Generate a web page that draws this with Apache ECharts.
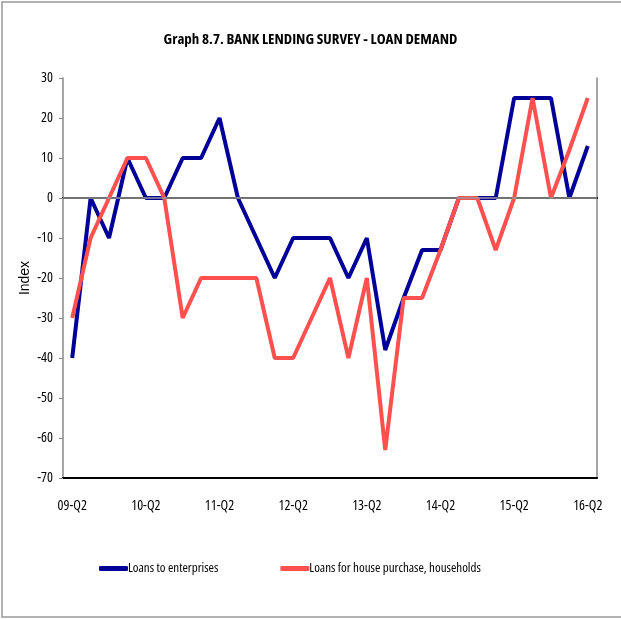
<!DOCTYPE html>
<html>
<head>
<meta charset="utf-8">
<script src="https://cdn.jsdelivr.net/npm/echarts@6/dist/echarts.min.js"></script>
<style>
  html, body { margin: 0; padding: 0; background: #fff; }
  #chart { width: 621px; height: 619px; }
</style>
</head>
<body>
<div id="chart"></div>
<script>
// Quarters from 2009 Q2 to 2016 Q2
const quarters = [
  '09-Q2', '09-Q3', '09-Q4', '10-Q1', '10-Q2', '10-Q3', '10-Q4', '11-Q1',
  '11-Q2', '11-Q3', '11-Q4', '12-Q1', '12-Q2', '12-Q3', '12-Q4', '13-Q1',
  '13-Q2', '13-Q3', '13-Q4', '14-Q1', '14-Q2', '14-Q3', '14-Q4', '15-Q1',
  '15-Q2', '15-Q3', '15-Q4', '16-Q1', '16-Q2'
];

// Net demand index, loans to enterprises
const enterprises = [
  -40, 0, -10, 10, 0, 0, 10, 10,
  20, 0, -10, -20, -10, -10, -10, -20,
  -10, -38, -25, -13, -13, 0, 0, 0,
  25, 25, 25, 0, 13
];

// Net demand index, loans for house purchase
const households = [
  -30, -10, 0, 10, 10, 0, -30, -20,
  -20, -20, -20, -40, -40, -30, -20, -40,
  -20, -63, -25, -25, -13, 0, 0, -13,
  0, 25, 0, 12, 25
];

const yTicks = { min: -70, max: 30, step: 10 };

// Condensed face of the variable Open Sans font
const FONT = "'Open Sans', 'Liberation Sans', sans-serif";
const NARROW = { fontStyle: 'condensed', fontFamily: FONT, color: '#000' };
const BLUE = '#000099';
const RED = '#FF5050';

const chart = echarts.init(document.getElementById('chart'), null, { renderer: 'canvas' });

chart.setOption({
  backgroundColor: '#fff',
  animation: false,
  title: {
    text: 'Graph 8.7. BANK LENDING SURVEY - LOAN DEMAND',
    left: 'center',
    top: 27,
    textStyle: Object.assign({}, NARROW, { fontWeight: 'bold', fontSize: 15 })
  },
  graphic: [{
    type: 'rect',
    shape: { x: 2, y: 2, width: 640, height: 615 },
    style: { fill: 'none', stroke: '#999', lineWidth: 1.5 },
    silent: true
  }],
  legend: {
    top: 557,
    left: 94,
    itemWidth: 29,
    itemHeight: 5,
    itemGap: 62,
    icon: 'roundRect',
    textStyle: Object.assign({}, NARROW, { fontSize: 13, padding: [0, 0, 0, -5] }),
    data: ['Loans to enterprises', 'Loans for house purchase, households']
  },
  grid: { left: 63, right: 24, top: 78, bottom: 141, containLabel: false },
  xAxis: [{
    type: 'category',
    data: quarters,
    boundaryGap: true,
    position: 'bottom',
    axisLine: { onZero: false, lineStyle: { color: '#000', width: 2 } },
    axisTick: { show: false },
    axisLabel: Object.assign({}, NARROW, { interval: 3, margin: 21, fontSize: 14 }),
    splitLine: { show: false }
  }, {
    type: 'category',
    data: quarters,
    position: 'top',
    axisLine: { lineStyle: { color: '#000', width: 2 } },
    axisTick: { show: false },
    axisLabel: { show: false }
  }],
  yAxis: [{
    type: 'value',
    min: yTicks.min,
    max: yTicks.max,
    interval: yTicks.step,
    name: 'Index',
    nameLocation: 'middle',
    nameGap: 31,
    nameMoveOverlap: false,
    nameTextStyle: {
      fontFamily: "'Liberation Sans', Arial, sans-serif",
      fontSize: 14,
      color: '#000',
      fontWeight: 'normal'
    },
    axisLine: { show: true, lineStyle: { color: '#888', width: 1.5 } },
    axisTick: { show: true, length: 4, lineStyle: { color: '#888' } },
    axisLabel: Object.assign({}, NARROW, { fontSize: 14, margin: 10 }),
    splitLine: { show: false }
  }, {
    type: 'value',
    min: yTicks.min,
    max: yTicks.max,
    interval: yTicks.step,
    position: 'right',
    axisLine: { show: true, lineStyle: { color: '#888', width: 1.5 } },
    axisTick: { show: false },
    axisLabel: { show: false },
    splitLine: { show: false }
  }],
  series: [{
    name: 'zero',
    type: 'line',
    data: [],
    z: 1,
    silent: true,
    markLine: {
      silent: true,
      symbol: 'none',
      label: { show: false },
      lineStyle: { color: '#999', width: 1.5, type: 'solid' },
      data: [{ yAxis: 0 }]
    }
  }, {
    name: 'Loans to enterprises',
    type: 'line',
    data: enterprises,
    color: BLUE,
    symbol: 'none',
    lineStyle: { width: 4, color: BLUE },
    z: 3
  }, {
    name: 'Loans for house purchase, households',
    type: 'line',
    data: households,
    color: RED,
    symbol: 'none',
    lineStyle: { width: 4, color: RED },
    z: 4
  }]
});
</script>
</body>
</html>
